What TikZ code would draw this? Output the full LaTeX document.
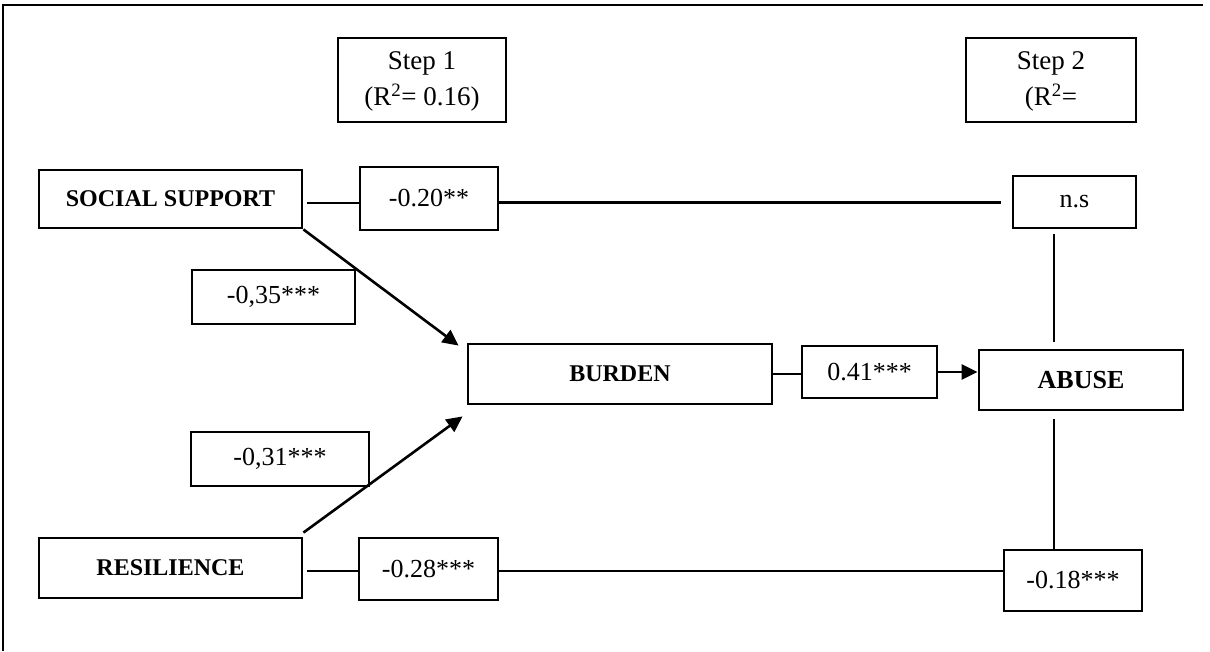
\documentclass[tikz,border=0pt]{standalone}
\usepackage{fontspec}
\setmainfont{Liberation Serif}
\usetikzlibrary{arrows.meta}
\tikzset{
  box/.style={draw, line width=2.8pt, inner sep=0pt, align=center,
    font=\fontsize{26}{30}\selectfont},
  var/.style={box, font=\fontsize{24}{28}\selectfont\bfseries},
  stepbox/.style={box, font=\fontsize{27}{36}\selectfont},
  link/.style={line width=2.6pt},
  arr/.style={line width=2.6pt, -{Triangle[length=16pt,width=15pt]}}
}

\begin{document}
\begin{tikzpicture}[x=1pt, y=-1pt]
  \useasboundingbox (0,0) rectangle (1210,651);
  % frame
  \draw[line width=2.8pt] (3,651) -- (3,5) -- (1203,5);

  % steps
  \node[stepbox, minimum width=168pt, minimum height=84pt] (step1) at (422,80)
    {\raisebox{-7pt}{\begin{tabular}{@{}c@{}}Step 1\\(R\textsuperscript{2}= 0.16)\end{tabular}}};
  \node[stepbox, minimum width=170pt, minimum height=84pt] (step2) at (1051,80)
    {\raisebox{-7pt}{\begin{tabular}{@{}c@{}}Step 2\\(R\textsuperscript{2}=\end{tabular}}};

  % variables
  \node[var, minimum width=263pt, minimum height=58pt] (social) at (170.5,199) {SOCIAL SUPPORT};
  \node[var, minimum width=304pt, minimum height=60pt] (burden) at (620,374) {BURDEN};
  \node[var, minimum width=204pt, minimum height=60pt, font=\fontsize{26}{30}\selectfont\bfseries] (abuse) at (1081,380) {ABUSE};
  \node[var, minimum width=263pt, minimum height=60pt] (resil) at (170.5,568) {RESILIENCE};

  % coefficients
  \node[box, minimum width=138pt, minimum height=63pt] (c020) at (429,198.5) {-0.20**};
  \node[box, minimum width=123pt, minimum height=52pt] (ns) at (1074.5,202) {n.s};
  \node[box, minimum width=163pt, minimum height=54pt] (c035) at (273.5,297) {-0,35***};
  \node[box, minimum width=135pt, minimum height=52pt] (c041) at (869.5,372) {0.41***};
  \node[box, minimum width=178pt, minimum height=54pt] (c031) at (280,459) {-0,31***};
  \node[box, minimum width=139pt, minimum height=62pt] (c028) at (428.5,569) {-0.28***};
  \node[box, minimum width=138pt, minimum height=61pt] (c018) at (1073,580.5) {-0.18***};

  \coordinate (vx) at (1054,0);

  % connectors
  \draw[link] ([xshift=4pt,yshift=-4pt]social.east) -- ([yshift=-4pt]social.east -| c020.west);
  \draw[link, shorten >=11pt] ([yshift=-4pt]c020.east) -- ([yshift=-4pt]c020.east -| ns.west);
  \draw[link, shorten <=5pt, shorten >=7pt] (ns.south -| vx) -- (abuse.north -| vx);
  \draw[link, shorten <=8pt] (abuse.south -| vx) -- (c018.north -| vx);
  \draw[link] (burden.east) -- (burden.east -| c041.west);
  \draw[arr] (c041.east) -- (c041.east -| abuse.west);
  \draw[link] ([xshift=4pt,yshift=-3pt]resil.east) -- ([yshift=-3pt]resil.east -| c028.west);
  \draw[link] ([yshift=-2pt]c028.east) -- ([yshift=-2pt]c028.east -| c018.west);
  \draw[arr] (social.south east) -- ([xshift=-8pt,yshift=-3pt]burden.north west);
  \draw[arr] ([yshift=4pt]resil.north east) -- ([xshift=-4pt,yshift=-11pt]burden.south west);
\end{tikzpicture}
\end{document}
